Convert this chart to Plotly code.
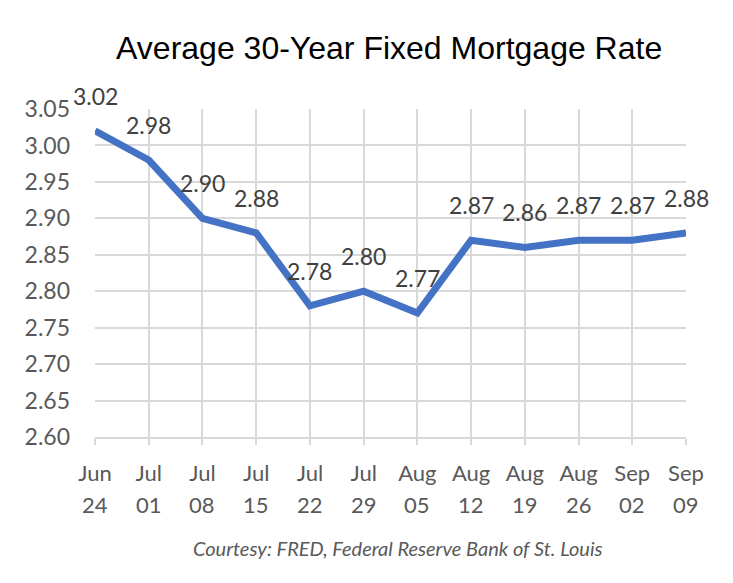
import plotly.graph_objects as go

# weekly dates (two-line tick labels) and rates
months = ["Jun", "Jul", "Jul", "Jul", "Jul", "Jul", "Aug", "Aug", "Aug", "Aug", "Sep", "Sep"]
days = ["24", "01", "08", "15", "22", "29", "05", "12", "19", "26", "02", "09"]
rates = [3.02, 2.98, 2.90, 2.88, 2.78, 2.80, 2.77, 2.87, 2.86, 2.87, 2.87, 2.88]

xs = list(range(len(months)))

grey = "#595959"
font_body = "Lato, 'Open Sans', sans-serif"

fig = go.Figure()
fig.add_trace(go.Scatter(
    x=xs, y=rates, mode="lines",
    line=dict(color="#4472C4", width=7),
    hoverinfo="y", showlegend=False,
))

# data labels above each point
for x, r in zip(xs, rates):
    fig.add_annotation(
        x=x, y=r, text=f"{r:.2f}", showarrow=False, yshift=35,
        font=dict(family=font_body, size=23, color="#404040"),
    )

# second line of the date labels (day of month)
for x, d in zip(xs, days):
    fig.add_annotation(
        x=x, y=0, yref="paper", yanchor="middle", text=d, showarrow=False,
        yshift=-67, font=dict(family=font_body, size=22, color=grey),
    )

fig.add_annotation(
    x=0.513, y=-0.338, xref="paper", yref="paper", yanchor="middle", showarrow=False,
    text="<i>Courtesy: FRED, Federal Reserve Bank of St. Louis</i>",
    font=dict(family=font_body, size=20, color=grey),
)

fig.update_layout(
    width=733, height=583,
    margin=dict(l=87, r=55, t=101, b=154),
    paper_bgcolor="white", plot_bgcolor="white",
    title=dict(
        text="Average 30-Year Fixed Mortgage Rate",
        x=0.52, xanchor="center", y=0.931, yanchor="middle",
        font=dict(family="'Liberation Sans', Arial, sans-serif", size=32, color="black"),
    ),
)

fig.update_xaxes(
    tickvals=xs, ticktext=months, range=[0, len(xs) - 1],
    showgrid=True, gridcolor="#d9d9d9", gridwidth=1.5,
    showline=True, linecolor="#d9d9d9", linewidth=2,
    ticks="outside", ticklen=6, tickcolor="#d9d9d9", tickwidth=2,
    ticklabelstandoff=10,
    tickfont=dict(family=font_body, size=22, color=grey),
    zeroline=False,
)
fig.update_yaxes(
    range=[2.60, 3.05], dtick=0.05, tickformat=".2f",
    showgrid=True, gridcolor="#d9d9d9", gridwidth=1.5,
    showline=False, zeroline=False, ticks="", ticklabelstandoff=24,
    tickfont=dict(family=font_body, size=23, color=grey),
)

fig.write_html("out.html")
